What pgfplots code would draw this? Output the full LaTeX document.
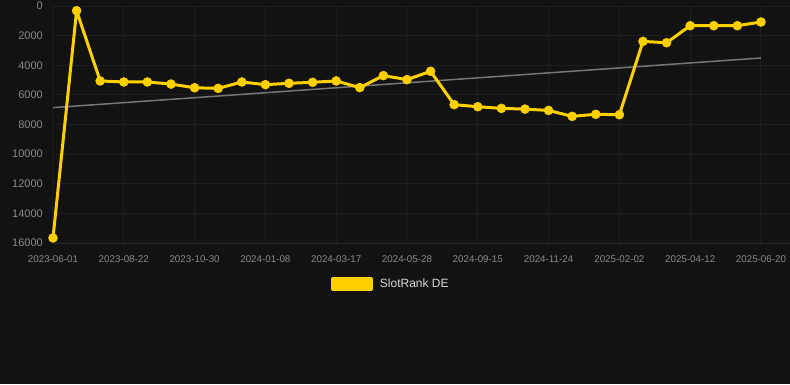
\documentclass[border=0pt]{standalone}
\usepackage{pgfplots}
\pgfplotsset{compat=1.18}
\usepackage{fontspec}
\setmainfont{Liberation Sans}
\definecolor{bg}{RGB}{18,18,18}
\definecolor{gridc}{RGB}{30,30,30}
\definecolor{basec}{RGB}{44,44,44}
\definecolor{tickc}{RGB}{138,138,138}
\definecolor{gold}{RGB}{255,208,0}
\definecolor{trend}{RGB}{118,118,118}
\definecolor{legc}{RGB}{215,215,215}
\begin{document}
\begin{tikzpicture}[x=1pt,y=1pt]
\fill[bg] (0,0) rectangle (790,384);
\useasboundingbox (0,0) rectangle (790,384);
\begin{axis}[
  at={(53pt,141pt)}, anchor=south west,
  scale only axis, width=737pt, height=237pt,
  xmin=0, xmax=31.23, ymin=0, ymax=16000, y dir=reverse,
  xtick={0,3,...,30},
  xticklabels={2023-06-01,2023-08-22,2023-10-30,2024-01-08,2024-03-17,2024-05-28,2024-09-15,2024-11-24,2025-02-02,2025-04-12,2025-06-20},
  ytick={0,2000,...,16000},
  scaled y ticks=false,
  /pgf/number format/assume math mode=true,
  /pgf/number format/1000 sep={},
  yticklabel style={font=\fontsize{11}{13}\selectfont, text=tickc, inner sep=0pt, anchor=east, xshift=-10pt},
  xticklabel style={font=\fontsize{9.8}{11}\selectfont, text=tickc, inner sep=0pt, anchor=north, yshift=-12pt},
  grid=major, major grid style={draw=gridc, line width=1pt},
  axis line style={draw=none},
  major tick length=0pt,
  clip=false,
  legend style={at={(0.457,-0.173)}, anchor=center, draw=none, fill=none, text=legc, font=\fontsize{12}{14}\selectfont, nodes={inner sep=0pt}, /tikz/every odd column/.append style={column sep=7pt}},
  legend image code/.code={\fill[gold] (0pt,-5.5pt) rectangle (39pt,5.5pt);},
]
\addplot[basec, line width=1pt, forget plot] coordinates {(0,16000) (31.23,16000)};
\addplot[trend, line width=1.5pt, forget plot] coordinates {(0,6860) (30,3510)};
\addplot[gold, line width=3pt, line join=round, mark=*, mark size=4.5pt, mark options={solid, fill=gold, draw=gold, line width=0.5pt}] coordinates {
(0,15660) (1,320) (2,5060) (3,5130) (4,5130) (5,5270) (6,5520) (7,5560)
(8,5130) (9,5310) (10,5220) (11,5150) (12,5060) (13,5510) (14,4700) (15,4970)
(16,4410) (17,6660) (18,6800) (19,6910) (20,6960) (21,7050) (22,7450) (23,7310)
(24,7340) (25,2390) (26,2480) (27,1330) (28,1330) (29,1330) (30,1080)
};
\addlegendentry{SlotRank DE}
\end{axis}
\end{tikzpicture}
\end{document}
